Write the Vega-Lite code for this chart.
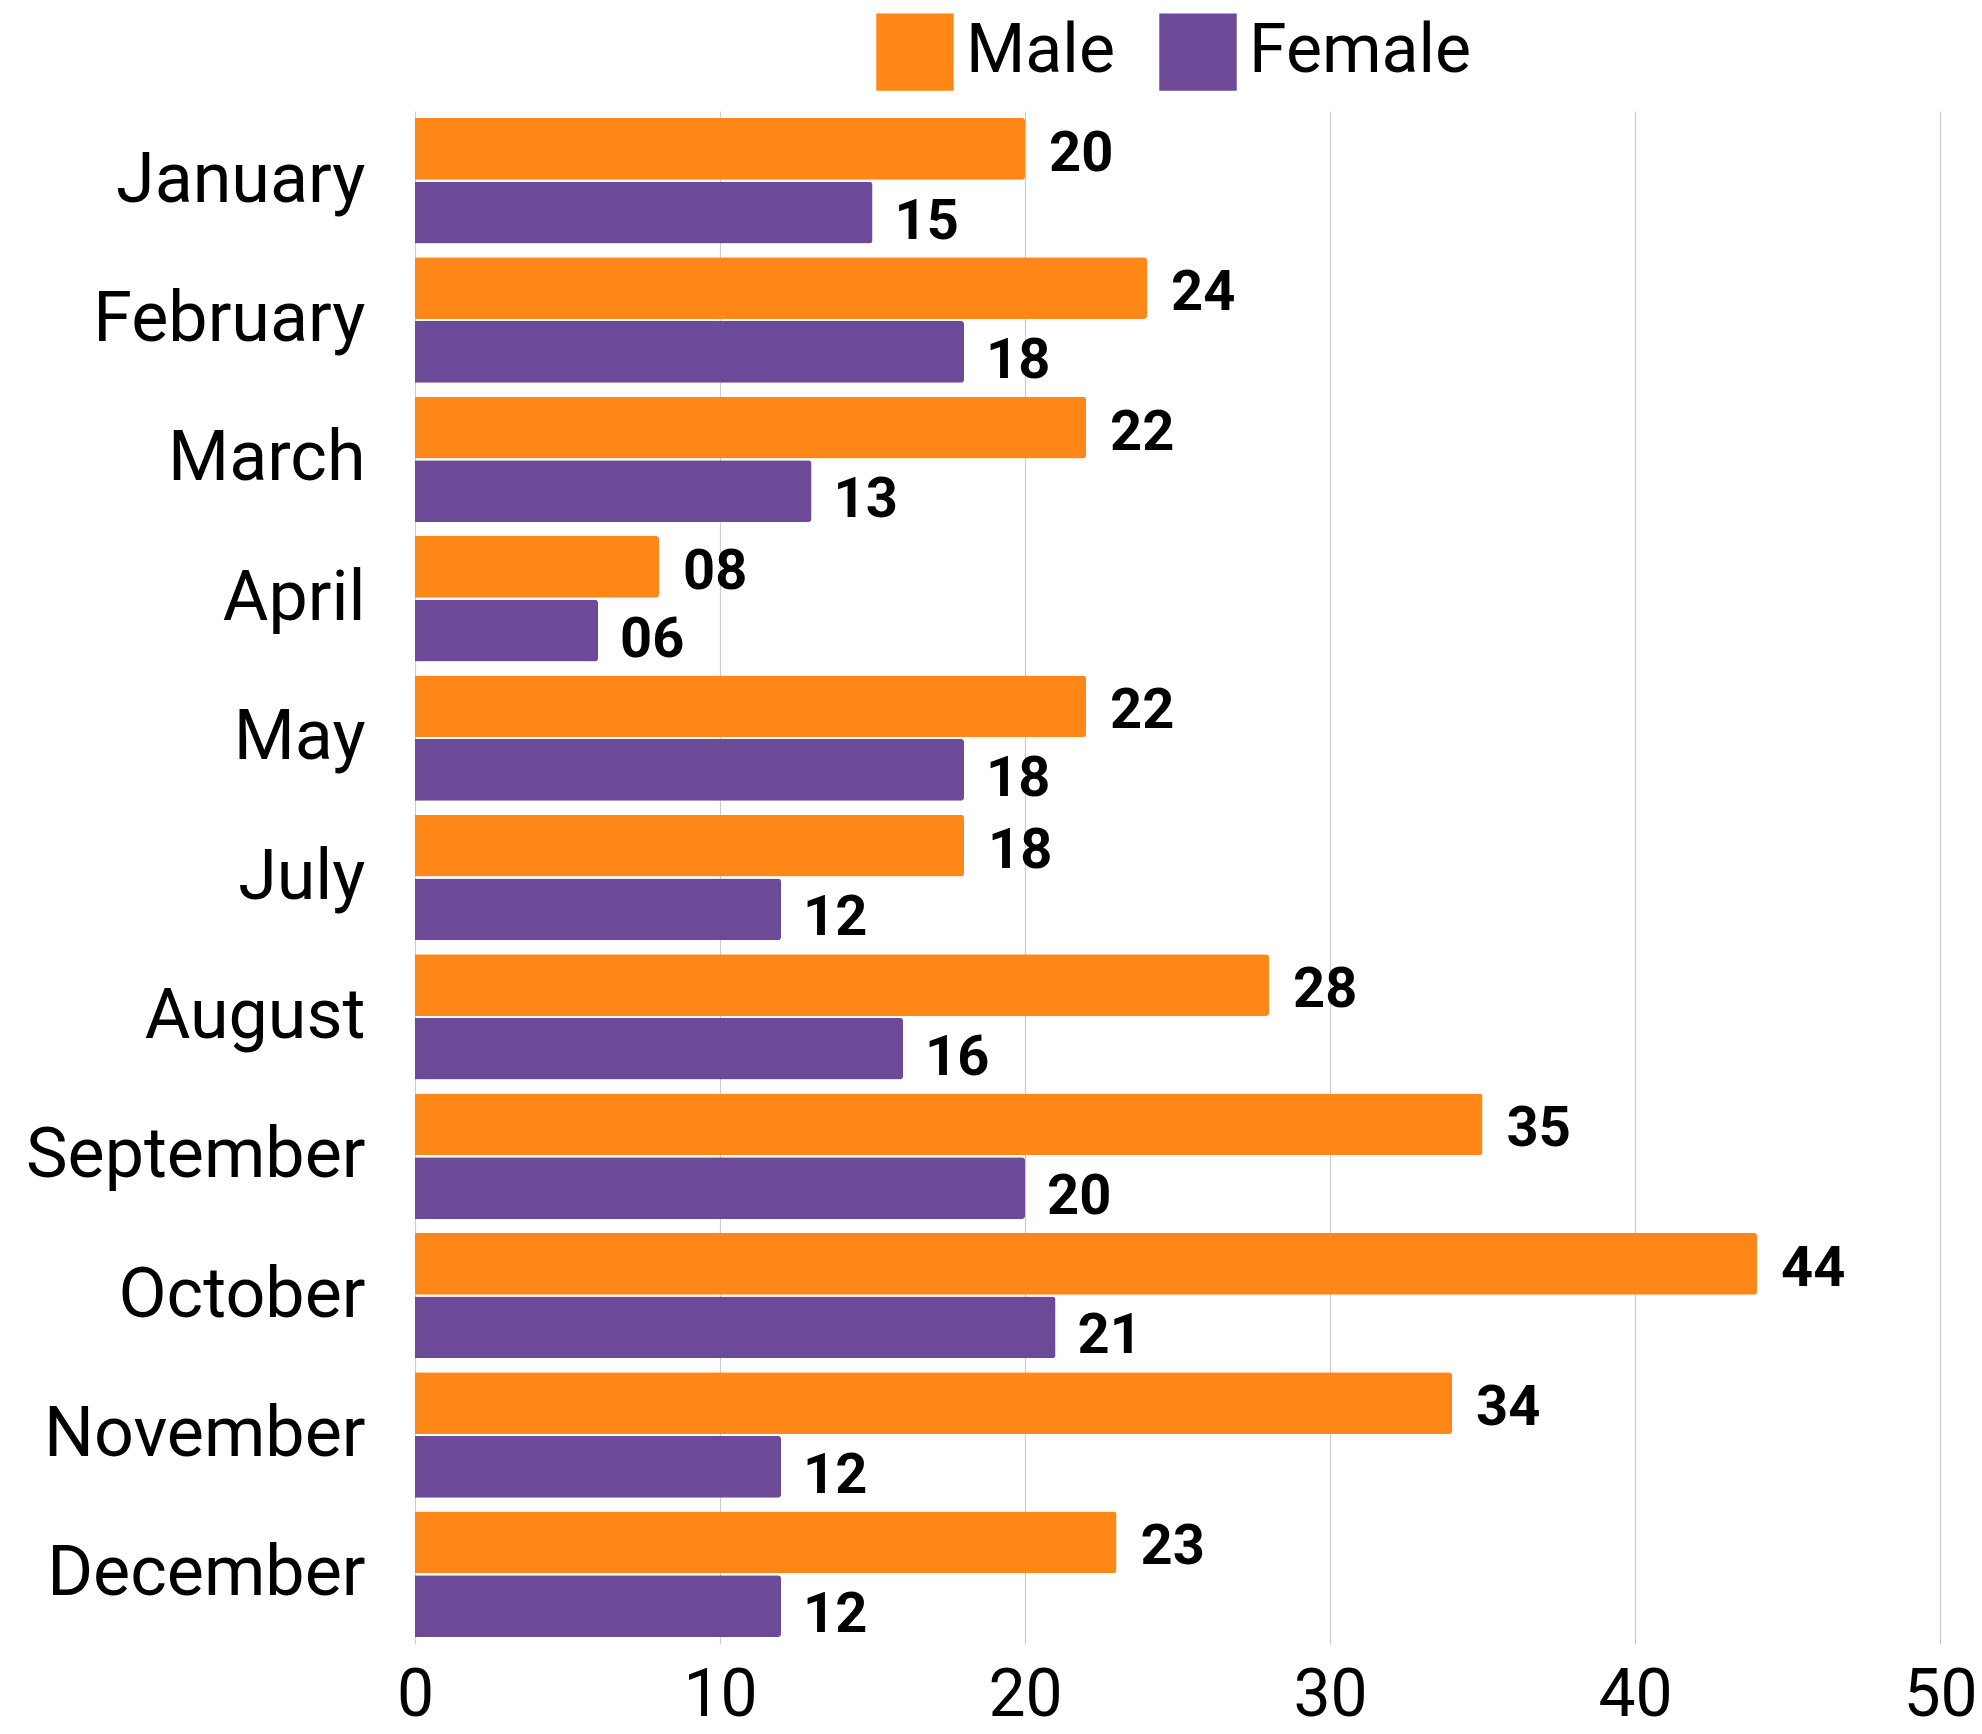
{
  "$schema": "https://vega.github.io/schema/vega-lite/v6.json",
  "autosize": "none",
  "width": 1525,
  "height": 1533,
  "padding": {"left": 415, "top": 111, "right": 42, "bottom": 90},
  "background": "white",
  "config": {
    "view": {"stroke": null},
    "font": "Roboto"
  },
  "data": {
    "values": [
      {"month": "January", "gender": "Male", "value": 20, "label": "20"},
      {"month": "January", "gender": "Female", "value": 15, "label": "15"},
      {"month": "February", "gender": "Male", "value": 24, "label": "24"},
      {"month": "February", "gender": "Female", "value": 18, "label": "18"},
      {"month": "March", "gender": "Male", "value": 22, "label": "22"},
      {"month": "March", "gender": "Female", "value": 13, "label": "13"},
      {"month": "April", "gender": "Male", "value": 8, "label": "08"},
      {"month": "April", "gender": "Female", "value": 6, "label": "06"},
      {"month": "May", "gender": "Male", "value": 22, "label": "22"},
      {"month": "May", "gender": "Female", "value": 18, "label": "18"},
      {"month": "July", "gender": "Male", "value": 18, "label": "18"},
      {"month": "July", "gender": "Female", "value": 12, "label": "12"},
      {"month": "August", "gender": "Male", "value": 28, "label": "28"},
      {"month": "August", "gender": "Female", "value": 16, "label": "16"},
      {"month": "September", "gender": "Male", "value": 35, "label": "35"},
      {"month": "September", "gender": "Female", "value": 20, "label": "20"},
      {"month": "October", "gender": "Male", "value": 44, "label": "44"},
      {"month": "October", "gender": "Female", "value": 21, "label": "21"},
      {"month": "November", "gender": "Male", "value": 34, "label": "34"},
      {"month": "November", "gender": "Female", "value": 12, "label": "12"},
      {"month": "December", "gender": "Male", "value": 23, "label": "23"},
      {"month": "December", "gender": "Female", "value": 12, "label": "12"}
    ]
  },
  "encoding": {
    "y": {
      "field": "month",
      "type": "nominal",
      "sort": ["January","February","March","April","May","July","August","September","October","November","December"],
      "scale": {"paddingInner": 0.1, "paddingOuter": 0.05},
      "axis": {
        "title": null,
        "domain": false,
        "ticks": false,
        "labelFontSize": 70,
        "labelColor": "#000000",
        "labelPadding": 50,
        "labelLimit": 500,
        "labelFont": "Roboto",
        "labelFontWeight": "normal"
      }
    },
    "yOffset": {
      "field": "gender",
      "type": "nominal",
      "sort": ["Male","Female"],
      "scale": {"paddingInner": 0.03}
    },
    "x": {
      "field": "value",
      "type": "quantitative",
      "scale": {"domain": [0, 50], "nice": false},
      "axis": {
        "title": null,
        "values": [0, 10, 20, 30, 40, 50],
        "domain": false,
        "ticks": false,
        "grid": true,
        "gridColor": "#cccccc",
        "gridWidth": 1.2,
        "labelFontSize": 66,
        "labelColor": "#000000",
        "labelPadding": 19,
        "labelFlush": false,
        "labelFont": "Roboto"
      }
    }
  },
  "layer": [
    {
      "mark": {"type": "bar", "cornerRadiusEnd": 3},
      "encoding": {
        "color": {
          "field": "gender",
          "type": "nominal",
          "scale": {"domain": ["Male","Female"], "range": ["#FF8717", "#6D4A98"]},
          "legend": {
            "title": null,
            "orient": "none",
            "direction": "horizontal",
            "legendX": 461,
            "legendY": -98,
            "symbolType": "square",
            "symbolSize": 6000,
            "symbolStrokeWidth": 0,
            "symbolOpacity": 1,
            "labelFontSize": 68,
            "labelFont": "Roboto",
            "labelColor": "#000000",
            "labelOffset": 12,
            "columnPadding": 44,
            "labelLimit": 400
          }
        }
      }
    },
    {
      "transform": [{"filter": "datum.gender === 'Male'"}],
      "mark": {"type": "text", "align": "left", "baseline": "middle", "dx": 24, "dy": 5, "fontSize": 56, "fontWeight": "bold", "color": "#000000", "font": "Roboto"},
      "encoding": {"text": {"field": "label"}}
    },
    {
      "transform": [{"filter": "datum.gender === 'Female'"}],
      "mark": {"type": "text", "align": "left", "baseline": "middle", "dx": 22, "dy": 9, "fontSize": 56, "fontWeight": "bold", "color": "#000000", "font": "Roboto"},
      "encoding": {"text": {"field": "label"}}
    }
  ]
}
